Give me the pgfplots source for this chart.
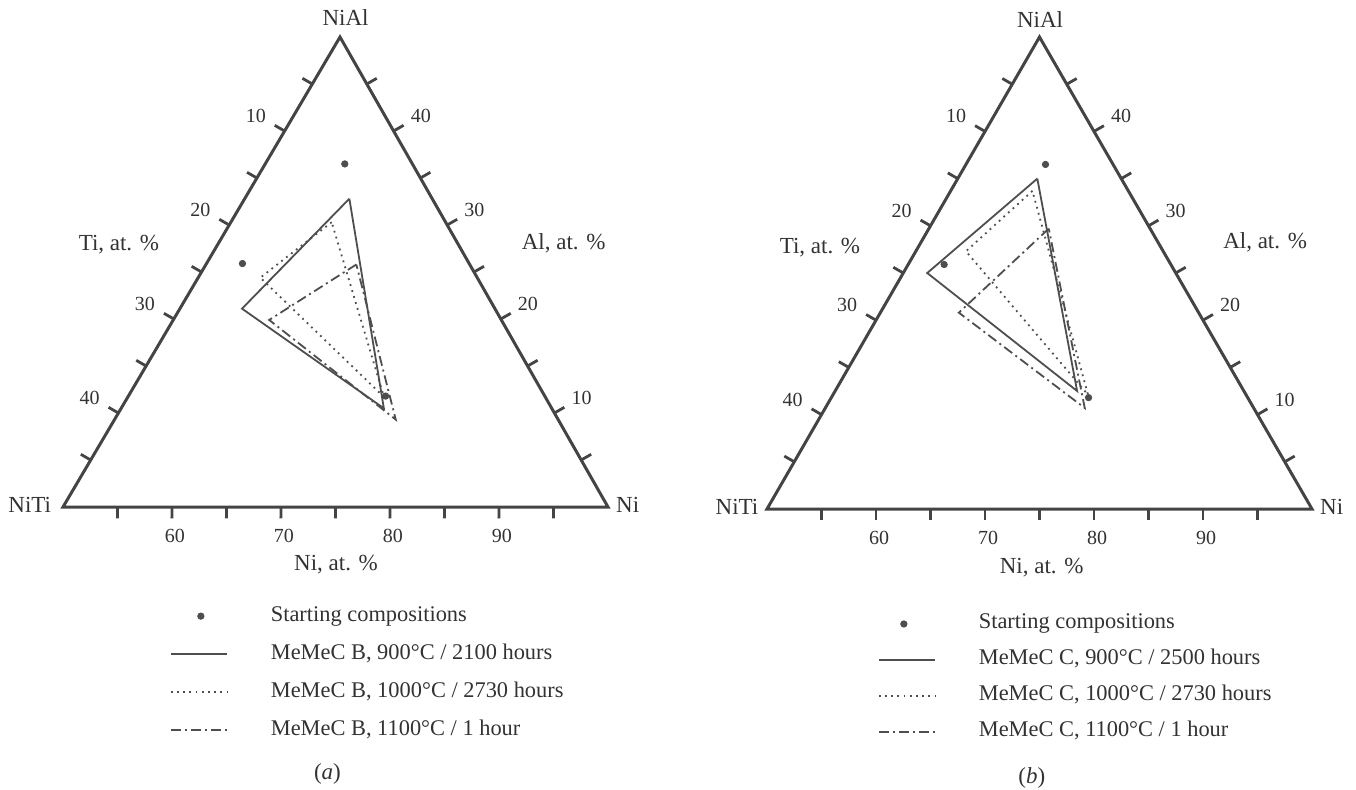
\documentclass[border=0pt]{standalone}
\usepackage{fontspec}
\setmainfont{Liberation Serif}
\usepackage{pgfplots}
\usepackage{pgfplotstable}
\pgfplotsset{compat=1.18}
\definecolor{fr}{RGB}{68,68,68}
\definecolor{ln}{RGB}{78,78,78}
\definecolor{tx}{RGB}{50,50,50}

% compositions in at.% (Ni, Ti, Al)
\pgfplotstableread{
Ni Ti Al
57.3 6.2 36.5
53.3 20.8 25.9
73.6 14.6 11.8
}\startcomp
% panel (a): MeMeC B
\pgfplotstableread{
Ni Ti Al
59.6 7.6 32.8
55.7 23.2 21.1
74.1 15.4 10.5
59.6 7.6 32.8
}\Bsolid
\pgfplotstableread{
Ni Ti Al
59.25 10.45 30.3
55.7 19.9 24.4
73.5 14.8 11.7
59.25 10.45 30.3
}\Bdot
\pgfplotstableread{
Ni Ti Al
63.8 10.4 25.8
58.8 21.3 19.9
75.8 14.9 9.3
63.8 10.4 25.8
}\Bdash
% panel (b): MeMeC C
\pgfplotstableread{
Ni Ti Al
57.3 7.7 35.0
52.2 22.8 25.0
72.2 15.3 12.5
57.3 7.7 35.0
}\Csolid
\pgfplotstableread{
Ni Ti Al
57.5 8.8 33.7
54.6 18.1 27.3
73.4 14.5 12.1
57.5 8.8 33.7
}\Cdot
\pgfplotstableread{
Ni Ti Al
61.0 9.3 29.7
57.2 22.0 20.8
73.8 15.5 10.7
61.0 9.3 29.7
}\Cdash

\newcommand{\lblfont}{\fontsize{11.5}{13}\selectfont}
\newcommand{\tickfont}{\fontsize{10}{12}\selectfont}

\newcommand{\ternframe}{%
  \draw[fr, line width=1.5pt, line join=miter] (axis cs:0,0) -- (axis cs:50,0) -- (axis cs:25,43.30127) -- cycle;
  \pgfplotsinvokeforeach{5,10,...,45}{%
    \draw[fr, line width=1.4pt] (axis cs:##1,0) -- (axis cs:##1,-1.05);
    \draw[fr, line width=1.4pt] (axis cs:{(50-##1)/2},{(50-##1)*0.8660254}) -- (axis cs:{(50-##1)/2-0.91},{(50-##1)*0.8660254+0.525});
    \draw[fr, line width=1.4pt] (axis cs:{50-##1/2},{##1*0.8660254}) -- (axis cs:{50-##1/2+0.91},{##1*0.8660254+0.525});
  }
  \pgfplotsinvokeforeach{10,20,30,40}{%
    \node[tx, font=\tickfont] at (axis cs:{(50-##1)/2-2.66},{(50-##1)*0.8660254+1.38}) {##1};
    \node[tx, font=\tickfont] at (axis cs:{50-##1/2+2.48},{##1*0.8660254+1.38}) {##1};
  }
  \pgfplotsinvokeforeach{60,70,80,90}{%
    \node[tx, font=\tickfont] at (axis cs:{##1-50+0.28},-2.66) {##1};
  }
}

\pgfplotsset{
  tern/.style={hide axis, clip=false,
    xmin=0, xmax=50, ymin=0, ymax=43.30127, anchor=origin,
    legend style={anchor=north west, draw=none, fill=none, inner sep=0pt, outer sep=0pt,
      font=\fontsize{11.2}{13}\selectfont, text=tx,
      nodes={inner sep=0pt, text height=8pt, text depth=3pt},
      cells={anchor=west}},
    legend image code/.code={\draw[##1] (0pt,0pt) -- (28pt,0pt); \path[draw=none] (0pt,0pt) -- (50pt,0pt);}
  },
  solidl/.style={ln, line width=0.9pt},
  dotl/.style={ln, line width=0.9pt, dash pattern=on 0.9pt off 2.2pt},
  dashl/.style={ln, line width=0.9pt, dash pattern=on 5pt off 2pt on 1pt off 2pt},
  dotm/.style={only marks, mark=*, mark size=1.6pt, color=ln},
  dotlegA/.style={legend image code/.code={\path[draw=none] (0pt,0pt) -- (50pt,0pt); \draw[##1] plot coordinates {(15pt,0pt)};}},
  dotlegB/.style={legend image code/.code={\path[draw=none] (0pt,0pt) -- (49.4pt,0pt); \draw[##1] plot coordinates {(12.5pt,0pt)};}}
}

\begin{document}
\begin{tikzpicture}
\useasboundingbox (0,0) rectangle (678pt,394.5pt);

% ---------------- panel (a)
\begin{axis}[tern, x={(5.45pt,0pt)}, y={(0.052pt,5.427pt)}, at={(31.5pt,141pt)},
  legend style={at={(axis cs:9.9,-9.04)}, row sep=8pt}]
\ternframe
\addplot[dotm, dotlegA]
  table[x expr=\thisrow{Ni}-50+0.5*\thisrow{Al}, y expr=0.8660254*\thisrow{Al}] {\startcomp};
\addlegendentry{Starting compositions}
\addplot[solidl] table[x expr=\thisrow{Ni}-50+0.5*\thisrow{Al}, y expr=0.8660254*\thisrow{Al}] {\Bsolid};
\addlegendentry{MeMeC B, 900°C / 2100 hours}
\addplot[dotl] table[x expr=\thisrow{Ni}-50+0.5*\thisrow{Al}, y expr=0.8660254*\thisrow{Al}] {\Bdot};
\addlegendentry{MeMeC B, 1000°C / 2730 hours}
\addplot[dashl] table[x expr=\thisrow{Ni}-50+0.5*\thisrow{Al}, y expr=0.8660254*\thisrow{Al}] {\Bdash};
\addlegendentry{MeMeC B, 1100°C / 1 hour}
\node[tx, font=\lblfont] at (axis cs:25.5,45.1) {NiAl};
\node[tx, font=\lblfont, anchor=east] at (axis cs:-0.45,0.2) {NiTi};
\node[tx, font=\lblfont, anchor=west] at (axis cs:50.1,0.2) {Ni};
\node[tx, font=\lblfont] at (axis cs:4.9,24.2) {Ti, at. \%};
\node[tx, font=\lblfont] at (axis cs:45.7,24.3) {Al, at. \%};
\node[tx, font=\lblfont] at (axis cs:25.1,-5.3) {Ni, at. \%};
\node[tx, font=\lblfont] at (axis cs:24.5,-24.6) {(\textit{a})};
\end{axis}

% ---------------- panel (b)
\begin{axis}[tern, x={(5.45pt,0pt)}, y={(0pt,5.45pt)}, at={(383.5pt,140pt)},
  legend style={at={(axis cs:10.18,-9.54)}, row sep=7pt}]
\ternframe
\addplot[dotm, dotlegB]
  table[x expr=\thisrow{Ni}-50+0.5*\thisrow{Al}, y expr=0.8660254*\thisrow{Al}] {\startcomp};
\addlegendentry{Starting compositions}
\addplot[solidl] table[x expr=\thisrow{Ni}-50+0.5*\thisrow{Al}, y expr=0.8660254*\thisrow{Al}] {\Csolid};
\addlegendentry{MeMeC C, 900°C / 2500 hours}
\addplot[dotl] table[x expr=\thisrow{Ni}-50+0.5*\thisrow{Al}, y expr=0.8660254*\thisrow{Al}] {\Cdot};
\addlegendentry{MeMeC C, 1000°C / 2730 hours}
\addplot[dashl] table[x expr=\thisrow{Ni}-50+0.5*\thisrow{Al}, y expr=0.8660254*\thisrow{Al}] {\Cdash};
\addlegendentry{MeMeC C, 1100°C / 1 hour}
\node[tx, font=\lblfont] at (axis cs:25.05,44.9) {NiAl};
\node[tx, font=\lblfont, anchor=east] at (axis cs:-0.15,0.2) {NiTi};
\node[tx, font=\lblfont, anchor=west] at (axis cs:50.1,0.2) {Ni};
\node[tx, font=\lblfont] at (axis cs:4.86,24.0) {Ti, at. \%};
\node[tx, font=\lblfont] at (axis cs:45.7,24.5) {Al, at. \%};
\node[tx, font=\lblfont] at (axis cs:25.2,-5.4) {Ni, at. \%};
\node[tx, font=\lblfont] at (axis cs:24.3,-24.7) {(\textit{b})};
\end{axis}
\end{tikzpicture}
\end{document}
